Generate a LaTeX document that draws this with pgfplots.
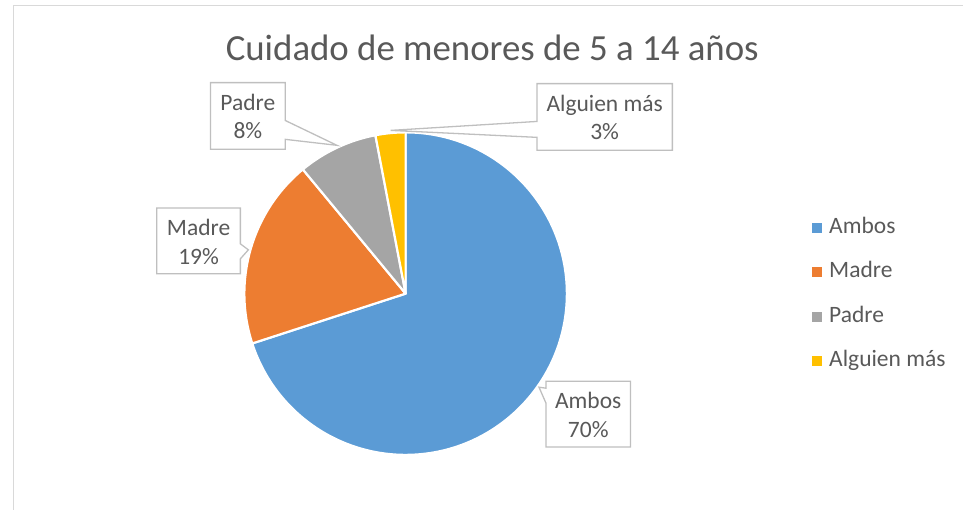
\documentclass[border=0pt]{standalone}
\usepackage{pgfplots}
\pgfplotsset{compat=1.18}
\usepackage{pgfplotstable}
\usepackage{fontspec}
\setmainfont{Carlito}
\definecolor{slice0}{HTML}{5B9BD5}
\definecolor{slice1}{HTML}{ED7D31}
\definecolor{slice2}{HTML}{A5A5A5}
\definecolor{slice3}{HTML}{FFC000}
\definecolor{txt}{HTML}{595959}
\definecolor{callout}{HTML}{BFBFBF}
\definecolor{framec}{HTML}{D9D9D9}
\begin{document}
\pgfplotstableread[col sep=comma]{
label,value
Ambos,70
Madre,19
Padre,8
Alguien más,3
}\piedata
\gdef\cum{0}
\pgfplotsforeachungrouped \i in {0,...,3}{%
  \pgfplotstablegetelem{\i}{value}\of\piedata
  \pgfmathsetmacro\a{90-3.6*\cum}%
  \pgfmathsetmacro\cumnew{\cum+\pgfplotsretval}%
  \pgfmathsetmacro\b{90-3.6*\cumnew}%
  \expandafter\xdef\csname sa\i\endcsname{\a}%
  \expandafter\xdef\csname sb\i\endcsname{\b}%
  \xdef\cum{\cumnew}%
}
\begin{tikzpicture}
\begin{axis}[name=ax, scale only axis, width=963pt, height=512pt,
  xmin=0, xmax=963, ymin=0, ymax=512, y dir=reverse, hide axis, clip=false,
  legend style={at={(axis cs:811,217)}, anchor=north west, draw=none, fill=none,
    inner sep=0pt, font=\fontsize{23.6}{28}\selectfont\color{txt},
    nodes={inner sep=0pt, text height=17pt, text depth=6pt},
    row sep=21.7pt, cells={anchor=west},
    /tikz/every odd column/.append style={column sep=8pt}},
]
\draw[framec, line width=1.3pt] (axis cs:9,512) -- (axis cs:9,5.5) -- (axis cs:963,5.5);
\pgfplotsinvokeforeach{0,...,3}{%
  \filldraw[fill=slice#1, draw=white, line width=2.2pt, line join=round]
    (axis cs:403,295) -- ++(\csname sa#1\endcsname:162pt)
    arc[start angle=\csname sa#1\endcsname, end angle=\csname sb#1\endcsname, radius=162pt] -- cycle;
}
\addlegendimage{legend image code/.code={\fill[slice0] (0pt,-4.5pt) rectangle (9pt,4.5pt);}}
\addlegendentry{Ambos}
\addlegendimage{legend image code/.code={\fill[slice1] (0pt,-4.5pt) rectangle (9pt,4.5pt);}}
\addlegendentry{Madre}
\addlegendimage{legend image code/.code={\fill[slice2] (0pt,-4.5pt) rectangle (9pt,4.5pt);}}
\addlegendentry{Padre}
\addlegendimage{legend image code/.code={\fill[slice3] (0pt,-4.5pt) rectangle (9pt,4.5pt);}}
\addlegendentry{Alguien más}
% callouts
\filldraw[fill=white, draw=callout, line width=1.3pt, line join=miter]
  (axis cs:207,83) -- (axis cs:282,83) -- (axis cs:282,121) -- (axis cs:334,146)
  -- (axis cs:282,140) -- (axis cs:282,150) -- (axis cs:207,150) -- cycle;
\filldraw[fill=white, draw=callout, line width=1.3pt, line join=miter]
  (axis cs:535,84) -- (axis cs:671,84) -- (axis cs:671,151) -- (axis cs:535,151)
  -- (axis cs:535,138) -- (axis cs:388,131) -- (axis cs:535,122) -- cycle;
\filldraw[fill=white, draw=callout, line width=1.3pt, line join=miter]
  (axis cs:153,209) -- (axis cs:237,209) -- (axis cs:237,245) -- (axis cs:245,251)
  -- (axis cs:237,260) -- (axis cs:237,275) -- (axis cs:153,275) -- cycle;
\filldraw[fill=white, draw=callout, line width=1.3pt, line join=miter]
  (axis cs:544,383) -- (axis cs:629,383) -- (axis cs:629,449) -- (axis cs:544,449)
  -- (axis cs:544,405) -- (axis cs:537,389) -- (axis cs:544,390) -- cycle;
\tikzset{lbl/.style={align=center, text=txt, font=\fontsize{23.6}{29}\selectfont, inner sep=0pt}}
\node[lbl] at (axis cs:244.5,117) {Padre\\8\%};
\node[lbl] at (axis cs:603,118) {Alguien más\\3\%};
\node[lbl] at (axis cs:195,243) {Madre\\19\%};
\node[lbl] at (axis cs:586.5,417) {Ambos\\70\%};
\node[text=txt, font=\fontsize{37}{44}\selectfont, anchor=base, inner sep=0pt] at (axis cs:490,61) {Cuidado de menores de 5 a 14 años};
\end{axis}
\pgfresetboundingbox
\path[use as bounding box] (ax.south west) rectangle (ax.north east);
\end{tikzpicture}
\end{document}
